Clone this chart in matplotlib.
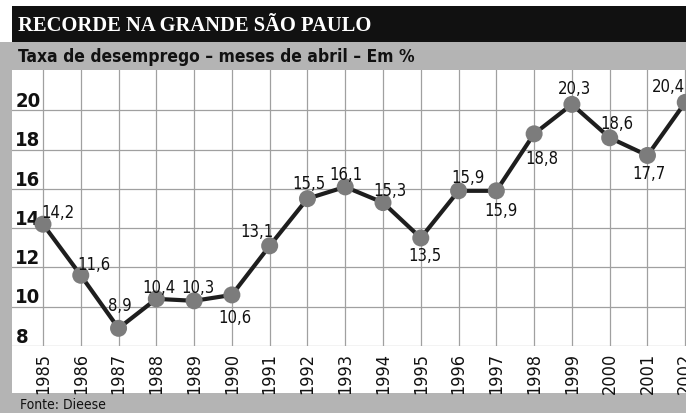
import matplotlib
matplotlib.use("Agg")
import matplotlib.pyplot as plt
from matplotlib.patches import Rectangle

# desemprego na Grande São Paulo, meses de abril (%)
years = list(range(1985, 2003))
rates = [14.2, 11.6, 8.9, 10.4, 10.3, 10.6, 13.1, 15.5, 16.1,
         15.3, 13.5, 15.9, 15.9, 18.8, 20.3, 18.6, 17.7, 20.4]
y_ticks = [8, 10, 12, 14, 16, 18, 20]

title = "RECORDE NA GRANDE SÃO PAULO"
subtitle = "Taxa de desemprego – meses de abril – Em %"
source = "Fonte: Dieese"

# posição de cada rótulo em relação ao ponto (pixels)
label_offsets = [(15, 12), (13, 11), (1, 23), (3, 12), (4, 14), (3, -22),
                 (-13, 15), (1, 16), (1, 13), (7, 13), (4, -17), (9, 14),
                 (5, -19), (8, -24), (3, 16), (7, 15), (1, -18), (-17, 16)]

NARROW = dict(family="DejaVu Sans", stretch="condensed")
W, H = 686, 414

fig = plt.figure(figsize=(W / 100, H / 100), dpi=100)
fig.patch.set_facecolor("white")


def band(x0, y0, x1, y1, color):
    # retângulo em pixels, origem no canto superior esquerdo
    fig.add_artist(Rectangle((x0 / W, 1 - y1 / H), (x1 - x0) / W, (y1 - y0) / H,
                             transform=fig.transFigure, facecolor=color,
                             edgecolor="none", zorder=0))


band(12, 7, W, 43, "#111111")
band(0, 43, W, 71, "#b4b4b4")
band(0, 43, 12, H, "#b4b4b4")
band(0, 394, W, H, "#b4b4b4")

fig.text(18 / W, 1 - 26 / H, title, color="white", fontsize=14.8,
         fontweight="bold", family=["Liberation Serif", "DejaVu Serif"],
         va="center", ha="left")
fig.text(18 / W, 1 - 57 / H, subtitle, color="#111111", fontsize=12.5,
         fontweight="bold", va="center", ha="left", **NARROW)
fig.text(20 / W, 1 - 405 / H, source, color="#111111", fontsize=10,
         va="center", ha="left", **NARROW)

ax = fig.add_axes([12 / W, (H - 347) / H, (W - 12) / W, 276 / H])
ax.set_facecolor("white")
ax.set_xlim(1984.18, 2002.02)
ax.set_ylim(8, 22.05)
for s in ax.spines.values():
    s.set_visible(False)

ax.set_xticks(years)
ax.set_xticklabels([str(y) for y in years], rotation=90, fontsize=13,
                   color="#111111", **NARROW)
ax.set_yticks(y_ticks)
ax.set_yticklabels([])
ax.tick_params(length=0, pad=4)
ax.grid(True, color="#a0a0a0", lw=0.9)
ax.set_axisbelow(True)

for v in y_ticks:
    ax.text(1984.27, v + 0.22, str(v), fontsize=14.5, fontweight="bold",
            color="#111111", ha="left", va="baseline", **NARROW)

ax.plot(years, rates, color="#1e1e1e", lw=3, zorder=3, clip_on=False)
ax.scatter(years, rates, s=150, color="#7c7c7c", edgecolor="none",
           zorder=4, clip_on=False)

for x, v, (dx, dy) in zip(years, rates, label_offsets):
    ax.annotate(f"{v:.1f}".replace(".", ","), (x, v),
                xytext=(dx * 0.72, dy * 0.72), textcoords="offset points",
                ha="center", va="center", fontsize=12,
                color="#111111", zorder=5, annotation_clip=False, **NARROW)

fig.savefig("out.png", dpi=100)
